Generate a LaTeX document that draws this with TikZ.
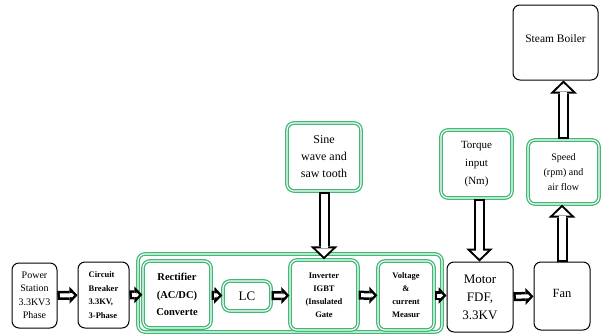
\documentclass[tikz,border=0pt]{standalone}
\usepackage{fontspec}
\setmainfont{Liberation Serif}
\usetikzlibrary{arrows.meta}
\definecolor{boxgreen}{RGB}{64,184,118}

\begin{document}
\begin{tikzpicture}[x=1pt, y=-1pt,
  blk/.style={draw=black, line width=1pt, rounded corners=7pt, align=center, inner sep=1pt},
  grn/.style={draw=boxgreen, double=white, line width=1.3pt, double distance=1.1pt, rounded corners=7pt, align=center, inner sep=1pt},
  harr/.style={line width=9pt, draw=black, -{Triangle[length=8pt, width=17pt, line width=0pt]},
    postaction={draw=white, line width=4pt, shorten <=2.5pt, shorten >=3.4pt, -{Triangle[length=2.2pt, width=4.6pt, line width=0pt]}}},
  varr/.style={line width=11pt, draw=black, -{Triangle[length=13pt, width=27pt, line width=0pt]},
    postaction={draw=white, line width=7pt, shorten <=2pt, shorten >=2.8pt, -{Triangle[length=8.2pt, width=17pt, line width=0pt]}}}
  ]
  \useasboundingbox (0,0) rectangle (603,333);

  % converter group
  \node[grn, minimum width=304pt, minimum height=78pt] (conv) at (290,293) {};

  \node[blk, minimum width=45pt, minimum height=65pt, font=\fontsize{10}{13.5}\selectfont] (ps) at (34.5,295.5) {Power\\Station\\3.3KV3\\Phase};
  \node[blk, minimum width=51pt, minimum height=66pt, align=left, font=\bfseries\fontsize{8.5}{13.5}\selectfont] (cb) at (103.5,295) {Circuit\\Breaker\\3.3KV,\\3-Phase};
  \node[grn, minimum width=68pt, minimum height=67pt, font=\bfseries\fontsize{10.5}{17.5}\selectfont] (rect) at (177,294.5) {Rectifier\\(AC/DC)\\Converte};
  \node[grn, minimum width=48pt, minimum height=30pt, font=\fontsize{13}{15}\selectfont] (lc) at (247,296) {LC};
  \node[grn, minimum width=68pt, minimum height=70pt, font=\bfseries\fontsize{8.5}{13}\selectfont] (inv) at (324,295) {Inverter\\IGBT\\(Insulated\\Gate};
  \node[grn, minimum width=56pt, minimum height=69pt, font=\bfseries\fontsize{8.5}{13}\selectfont] (meas) at (406,295.5) {Voltage\\\&\\current\\Measur};
  \node[blk, minimum width=66pt, minimum height=70pt, font=\fontsize{13}{18}\selectfont] (motor) at (480,297) {Motor\\FDF,\\3.3KV};
  \node[blk, minimum width=56pt, minimum height=68pt, font=\fontsize{12.5}{14}\selectfont] (fan) at (562,296) {\raisebox{5pt}{Fan}};

  \node[grn, minimum width=74pt, minimum height=68pt, font=\fontsize{12}{17}\selectfont] (sine) at (324,157) {Sine\\wave and\\saw tooth};
  \node[grn, minimum width=71pt, minimum height=68pt, font=\fontsize{11}{18}\selectfont] (torque) at (476.5,164) {Torque\\input\\(Nm)};
  \node[grn, minimum width=71pt, minimum height=64pt, font=\fontsize{10}{15}\selectfont] (speed) at (563.5,172) {Speed\\(rpm) and\\air flow};
  \node[blk, minimum width=85pt, minimum height=75pt, font=\fontsize{11.5}{13}\selectfont] (boiler) at (555.5,42.5) {\raisebox{7pt}{Steam Boiler}};

  \draw[harr] (ps) -- (cb);
  \draw[harr] (cb) -- (rect);
  \draw[harr] (rect) -- (lc);
  \draw[harr] (lc) -- (inv);
  \draw[harr] (inv) -- (meas);
  \draw[harr] (meas) -- (meas -| motor.west);
  \draw[harr] (motor) -- (fan);

  \draw[varr] (sine) -- (inv);
  \draw[varr] ([xshift=3pt]torque.south) -- ([xshift=3pt]torque.south |- motor.north);
  \draw[varr] (fan) -- (fan |- speed.south);
  \draw[varr] (speed) -- (speed |- boiler.south);
\end{tikzpicture}
\end{document}
